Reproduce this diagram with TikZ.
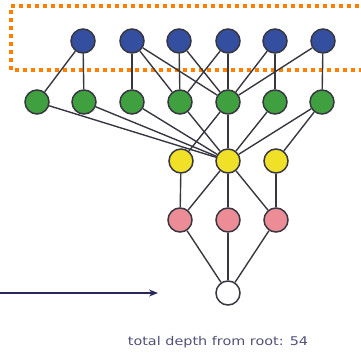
\documentclass[tikz,border=0pt]{standalone}
\usepackage{fontspec}
\setmainfont{DejaVu Sans}
\usetikzlibrary{arrows.meta}
\definecolor{cblue}{RGB}{52,78,160}
\definecolor{cgreen}{RGB}{64,160,64}
\definecolor{cyellow}{RGB}{240,224,40}
\definecolor{cpink}{RGB}{236,140,150}
\definecolor{cedge}{RGB}{55,55,65}
\definecolor{corange}{RGB}{255,128,0}
\definecolor{ctext}{RGB}{80,80,120}
\definecolor{carrow}{RGB}{40,40,90}
\begin{document}
\begin{tikzpicture}[x=1pt,y=-1pt,
  dot/.style={circle,draw=cedge,line width=1.5pt,minimum size=24pt,inner sep=0pt},
  bl/.style={dot,fill=cblue},
  gr/.style={dot,fill=cgreen},
  ye/.style={dot,fill=cyellow},
  pk/.style={dot,fill=cpink},
  wh/.style={dot,fill=white},
  edge/.style={draw=cedge,line width=1.4pt}]
\useasboundingbox (0,0) rectangle (361,353);
\draw[corange,line width=3.5pt,dash pattern=on 4pt off 4pt] (375,6) -- (11,6) -- (11,70) -- (375,70);
\foreach \i/\x in {1/83,2/132,3/179,4/228,5/275,6/323}{\node[bl] (b\i) at (\x,41) {};}
\foreach \i/\x in {1/37,2/84,3/132,4/180,5/228,6/275,7/322}{\node[gr] (g\i) at (\x,102) {};}
\foreach \i/\x in {1/181,2/228,3/276}{\node[ye] (y\i) at (\x,161) {};}
\foreach \i/\x in {1/180,2/228,3/276}{\node[pk] (p\i) at (\x,220) {};}
\node[wh] (w) at (228,293) {};
\foreach \a/\b in {b1/g1,b1/g2,b2/g3,b2/g4,b2/g5,b3/g4,b3/g5,b4/g5,b4/g4,b5/g6,b5/g5,b6/g7,b6/g5,
  g1/y2,g2/y2,g3/y2,g4/y2,g5/y1,g5/y2,g6/y2,g7/y2,g7/y3,
  y1/p1,y2/p1,y2/p2,y2/p3,y3/p3,p1/w,p2/w,p3/w}{\draw[edge] (\a) -- (\b);}
\coordinate (as) at (0,293);
\coordinate (ae) at (158,293);
\draw[line width=1.5pt,draw=carrow,-{Stealth[length=9pt,width=7pt]}] (as) -- (ae);
\node[text=ctext,font=\fontsize{12}{14}\selectfont,xscale=1.2] (t) at (218,342) {total depth from root: 54};
\end{tikzpicture}
\end{document}
